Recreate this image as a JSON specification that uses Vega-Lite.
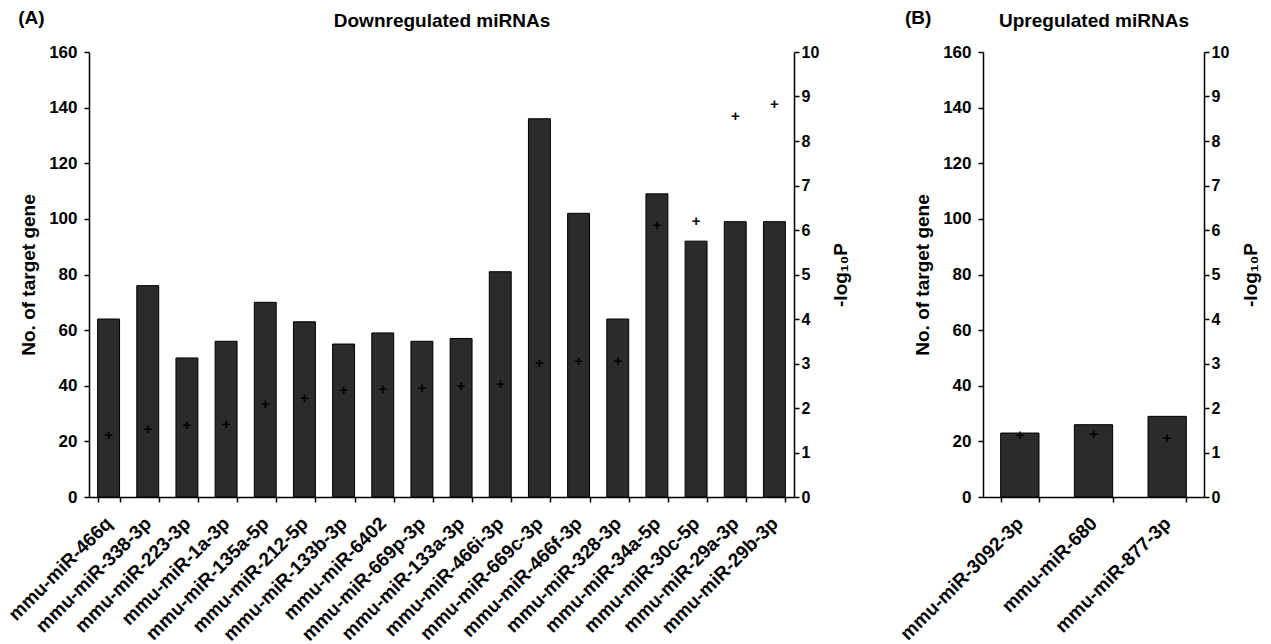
{
  "$schema": "https://vega.github.io/schema/vega-lite/v6.json",
  "padding": {"left": 5, "top": 9, "right": 5, "bottom": 5},
  "background": "white",
  "datasets": {
    "down": [
      {"mirna": "mmu-miR-466q", "targets": 64, "logp": 1.39},
      {"mirna": "mmu-miR-338-3p", "targets": 76, "logp": 1.53},
      {"mirna": "mmu-miR-223-3p", "targets": 50, "logp": 1.62},
      {"mirna": "mmu-miR-1a-3p", "targets": 56, "logp": 1.64},
      {"mirna": "mmu-miR-135a-5p", "targets": 70, "logp": 2.09},
      {"mirna": "mmu-miR-212-5p", "targets": 63, "logp": 2.22},
      {"mirna": "mmu-miR-133b-3p", "targets": 55, "logp": 2.4},
      {"mirna": "mmu-miR-6402", "targets": 59, "logp": 2.43},
      {"mirna": "mmu-miR-669p-3p", "targets": 56, "logp": 2.45},
      {"mirna": "mmu-miR-133a-3p", "targets": 57, "logp": 2.49},
      {"mirna": "mmu-miR-466i-3p", "targets": 81, "logp": 2.54},
      {"mirna": "mmu-miR-669c-3p", "targets": 136, "logp": 3.01},
      {"mirna": "mmu-miR-466f-3p", "targets": 102, "logp": 3.06},
      {"mirna": "mmu-miR-328-3p", "targets": 64, "logp": 3.06},
      {"mirna": "mmu-miR-34a-5p", "targets": 109, "logp": 6.11},
      {"mirna": "mmu-miR-30c-5p", "targets": 92, "logp": 6.2},
      {"mirna": "mmu-miR-29a-3p", "targets": 99, "logp": 8.56},
      {"mirna": "mmu-miR-29b-3p", "targets": 99, "logp": 8.83}
    ],
    "up": [
      {"mirna": "mmu-miR-3092-3p", "targets": 23, "logp": 1.39},
      {"mirna": "mmu-miR-680", "targets": 26, "logp": 1.42},
      {"mirna": "mmu-miR-877-3p", "targets": 29, "logp": 1.33}
    ]
  },
  "config": {
    "font": "Liberation Sans",
    "view": {"stroke": null},
    "axis": {
      "grid": false,
      "labelFont": "Liberation Sans",
      "labelFontWeight": "bold",
      "labelFontSize": 17,
      "labelColor": "#000",
      "titleFont": "Liberation Sans",
      "titleFontWeight": "bold",
      "titleFontSize": 19,
      "titleColor": "#000",
      "domainColor": "#000",
      "domainWidth": 1.5,
      "tickColor": "#000",
      "tickWidth": 1.5,
      "tickSize": 5
    },
    "title": {"font": "Liberation Sans", "fontWeight": "bold", "fontSize": 19, "color": "#000"}
  },
  "bounds": "flush",
  "spacing": 189,
  "hconcat": [
    {
      "width": 705,
      "height": 445,
      "data": {"name": "down"},
      "title": {"text": "(A)", "anchor": "start", "frame": "bounds", "offset": -17, "dx": 13},
      "layer": [
        {
          "mark": {"type": "bar", "fill": "#2b2b2b", "stroke": "#000", "strokeWidth": 1},
          "encoding": {
            "x": {"field": "mirna", "type": "nominal", "sort": null,
                  "scale": {"paddingInner": 0.44, "paddingOuter": 0.22},
                  "axis": {"title": null, "labelAngle": -45, "labelAlign": "right", "labelBaseline": "middle", "tickBand": "extent", "labelPadding": 18, "labelFontSize": 19}},
            "y": {"field": "targets", "type": "quantitative",
                  "scale": {"domain": [0, 160], "nice": false},
                  "axis": {"title": "No. of target gene", "values": [0, 20, 40, 60, 80, 100, 120, 140, 160], "titlePadding": 10, "labelPadding": 7}}
          }
        },
        {
          "mark": {"type": "text", "text": "+", "fontWeight": "bold", "fontSize": 15, "baseline": "middle", "align": "center", "color": "#000"},
          "encoding": {
            "x": {"field": "mirna", "type": "nominal", "sort": null,
                  "axis": {"orient": "top", "title": "Downregulated miRNAs", "labels": false, "ticks": false, "domain": false, "titlePadding": 22}},
            "y": {"field": "logp", "type": "quantitative",
                  "scale": {"domain": [0, 10], "nice": false},
                  "axis": {"orient": "right", "title": "-log₁₀P", "titleAngle": 270, "values": [0, 1, 2, 3, 4, 5, 6, 7, 8, 9, 10], "titlePadding": 32, "labelFontSize": 16}}
          }
        }
      ],
      "resolve": {"scale": {"y": "independent"}, "axis": {"x": "independent"}}
    },
    {
      "width": 221,
      "height": 445,
      "data": {"name": "up"},
      "title": {"text": "(B)", "anchor": "start", "frame": "bounds", "offset": -17, "dx": 8},
      "layer": [
        {
          "mark": {"type": "bar", "fill": "#2b2b2b", "stroke": "#000", "strokeWidth": 1},
          "encoding": {
            "x": {"field": "mirna", "type": "nominal", "sort": null,
                  "scale": {"paddingInner": 0.48, "paddingOuter": 0.24},
                  "axis": {"title": null, "labelAngle": -45, "labelAlign": "right", "labelBaseline": "middle", "tickBand": "extent", "labelPadding": 18, "labelFontSize": 19}},
            "y": {"field": "targets", "type": "quantitative",
                  "scale": {"domain": [0, 160], "nice": false},
                  "axis": {"title": "No. of target gene", "values": [0, 20, 40, 60, 80, 100, 120, 140, 160], "titlePadding": 10, "labelPadding": 7}}
          }
        },
        {
          "mark": {"type": "text", "text": "+", "fontWeight": "bold", "fontSize": 15, "baseline": "middle", "align": "center", "color": "#000"},
          "encoding": {
            "x": {"field": "mirna", "type": "nominal", "sort": null,
                  "axis": {"orient": "top", "title": "Upregulated miRNAs", "labels": false, "ticks": false, "domain": false, "titlePadding": 22}},
            "y": {"field": "logp", "type": "quantitative",
                  "scale": {"domain": [0, 10], "nice": false},
                  "axis": {"orient": "right", "title": "-log₁₀P", "titleAngle": 270, "values": [0, 1, 2, 3, 4, 5, 6, 7, 8, 9, 10], "titlePadding": 32, "labelFontSize": 16}}
          }
        }
      ],
      "resolve": {"scale": {"y": "independent"}, "axis": {"x": "independent"}}
    }
  ]
}
